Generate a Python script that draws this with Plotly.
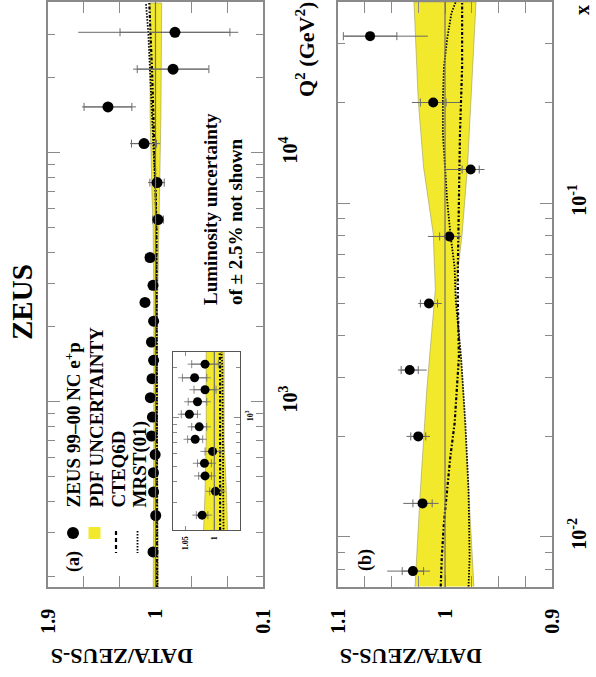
import plotly.graph_objects as go

# ---------------- data: panel (a)  DATA/ZEUS-S vs Q^2 ----------------
q2_a = [250, 350, 435, 520, 615, 730, 870, 1040, 1240, 1470, 1740, 2110,
        2510, 2940, 3800, 5400, 7600, 10900, 15300, 21700, 30500]
ratio_a = [1.021, 0.998, 1.016, 1.017, 1.003, 1.033, 1.026, 1.043, 1.029, 1.016, 1.034, 1.016,
           1.088, 1.021, 1.046, 0.979, 0.987, 1.096, 1.398, 0.853, 0.837]
tot_up_a = [0.017, 0.017, 0.019, 0.020, 0.021, 0.020, 0.020, 0.020, 0.023, 0.027, 0.028, 0.030,
            0.030, 0.035, 0.040, 0.050, 0.076, 0.117, 0.217, 0.335, 0.810]
tot_dn_a = [0.017, 0.017, 0.019, 0.020, 0.021, 0.020, 0.020, 0.020, 0.023, 0.027, 0.028, 0.030,
            0.030, 0.035, 0.040, 0.050, 0.067, 0.134, 0.235, 0.293, 0.530]
stat_a = [0.010, 0.010, 0.011, 0.012, 0.013, 0.013, 0.013, 0.014, 0.016, 0.019, 0.021, 0.023,
          0.025, 0.030, 0.035, 0.045, 0.060, 0.105, 0.200, 0.300, 0.460]

band_a_q2 = [180, 340, 700, 2500, 5000, 7000, 14000, 40000]
band_a_hi = [1.019, 1.016, 1.014, 1.014, 1.020, 1.030, 1.045, 1.046]
band_a_lo = [0.977, 0.979, 0.983, 0.983, 0.975, 0.968, 0.955, 0.948]

theory_a_q2 = [180, 2000, 5000, 6900, 8800, 12000, 16300, 22100, 30200, 40000]
cteq_a = [0.990, 0.990, 0.993, 0.998, 1.004, 1.011, 1.020, 1.030, 1.042, 1.052]
mrst_a = [0.984, 0.986, 0.992, 1.000, 1.010, 1.018, 1.032, 1.046, 1.060, 1.080]

# ---------------- data: panel (b)  DATA/ZEUS-S vs x ----------------
x_b = [0.0079, 0.0126, 0.02, 0.0316, 0.05, 0.0794, 0.126, 0.2, 0.316]
ratio_b = [1.030, 1.021, 1.025, 1.033, 1.015, 0.996, 0.976, 1.011, 1.070]
tot_up_b = [0.024, 0.018, 0.011, 0.011, 0.010, 0.020, 0.024, 0.020, 0.024]
tot_dn_b = [0.016, 0.015, 0.011, 0.016, 0.012, 0.011, 0.013, 0.025, 0.054]
stat_b = [0.010, 0.009, 0.007, 0.008, 0.008, 0.009, 0.008, 0.012, 0.025]

band_b_x = [0.0071, 0.0138, 0.0276, 0.055, 0.081, 0.128, 0.203, 0.40]
band_b_hi = [1.028, 1.023, 1.017, 1.009, 1.011, 1.020, 1.025, 1.029]
band_b_lo = [0.973, 0.978, 0.983, 0.990, 0.984, 0.979, 0.976, 0.971]

cteq_b_x = [0.0071, 0.0087, 0.011, 0.0138, 0.0174, 0.0219, 0.0276, 0.0346, 0.051, 0.064,
            0.102, 0.162, 0.255, 0.40]
cteq_b = [1.004, 1.003, 1.001, 0.998, 0.995, 0.991, 0.989, 0.987, 0.988, 0.988,
          0.987, 0.986, 0.984, 0.984]
mrst_b_x = [0.0071, 0.0087, 0.0138, 0.0219, 0.0346, 0.0512, 0.064, 0.081, 0.102, 0.128,
            0.162, 0.203, 0.255, 0.31, 0.37, 0.40]
mrst_b = [0.978, 0.977, 0.978, 0.981, 0.985, 0.990, 0.991, 0.995, 0.998, 1.000,
          1.002, 1.002, 1.001, 0.998, 0.994, 0.990]

# tick labels
ratio_ticks_a = [1.9, 1, 0.1]
ratio_ticks_a_txt = ["1.9", "1", "0.1"]
ratio_minor_a = [1.6, 1.3, 0.7, 0.4]
ratio_ticks_b = [1.1, 1, 0.9]
ratio_ticks_b_txt = ["1.1", "1", "0.9"]
ratio_minor_b = [1.075, 1.05, 1.025, 0.975, 0.95, 0.925]
q2_ticks = [1000, 10000]
q2_ticks_txt = ["10<sup>3</sup>", "10<sup>4</sup>"]
q2_minor = [200, 300, 400, 500, 600, 700, 800, 900, 2000, 3000, 4000, 5000, 6000, 7000,
            8000, 9000, 20000, 30000]
x_ticks = [0.01, 0.1]
x_ticks_txt = ["10<sup>-2</sup>", "10<sup>-1</sup>"]
x_minor = [0.008, 0.009, 0.02, 0.03, 0.04, 0.05, 0.06, 0.07, 0.08, 0.09, 0.2, 0.3]
inset_ticks = [1.05, 1.0]
inset_ticks_txt = ["1.05", "1"]
inset_q2_ticks = [1000]
inset_q2_ticks_txt = ["10<sup>3</sup>"]
inset_q2_minor = [300, 400, 500, 600, 700, 800, 900, 2000]
INSET_Q2_MAX = 2200

# ---------------- style ----------------
W, H = 596, 677
FONT = "Liberation Serif"
YEL = "#F3E92C"
FRAME = "#8a8a8a"
ERR = "#6a6a6a"
CTEQ_DASH = "3px,2px,1.5px,2px"
MRST_DASH = "1.5px,1.5px"


def px(X):
    return X / W


def py(Y):
    return 1 - Y / H


fig = go.Figure()


def add_panel(xa, ya, band_pos, band_hi, band_lo, th_pos1, th1, th_pos2, th2,
              pos, rat, up, dn, st, msize, lw=1.0):
    fig.add_trace(go.Scatter(
        x=band_hi + band_lo[::-1], y=band_pos + band_pos[::-1], fill="toself",
        fillcolor=YEL, line=dict(color="#9a9a60", width=0.6), mode="lines",
        xaxis=xa, yaxis=ya, hoverinfo="skip", showlegend=False))
    fig.add_shape(type="line", xref=xa, yref=ya + " domain", x0=1, x1=1, y0=0, y1=1,
                  line=dict(color="#6e6e6e", width=1.2))
    fig.add_trace(go.Scatter(x=th1, y=th_pos1, mode="lines", xaxis=xa, yaxis=ya,
                             line=dict(color="black", width=2.2, dash=CTEQ_DASH),
                             showlegend=False, hoverinfo="skip"))
    fig.add_trace(go.Scatter(x=th2, y=th_pos2, mode="lines", xaxis=xa, yaxis=ya,
                             line=dict(color="black", width=1.8, dash=MRST_DASH),
                             showlegend=False, hoverinfo="skip"))
    fig.add_trace(go.Scatter(
        x=rat, y=pos, mode="markers", marker=dict(size=1, color="rgba(0,0,0,0)"),
        error_x=dict(type="data", symmetric=False, array=up, arrayminus=dn,
                     color=ERR, thickness=lw, width=0),
        xaxis=xa, yaxis=ya, showlegend=False, hoverinfo="skip"))
    fig.add_trace(go.Scatter(
        x=rat, y=pos, mode="markers", marker=dict(size=1, color="rgba(0,0,0,0)"),
        error_x=dict(type="data", array=st, color=ERR, thickness=lw, width=4),
        xaxis=xa, yaxis=ya, showlegend=False, hoverinfo="skip"))
    fig.add_trace(go.Scatter(
        x=rat, y=pos, mode="markers", marker=dict(size=msize, color="black"),
        xaxis=xa, yaxis=ya, showlegend=False))


add_panel("x", "y", band_a_q2, band_a_hi, band_a_lo, theory_a_q2, cteq_a,
          theory_a_q2, mrst_a, q2_a, ratio_a, tot_up_a, tot_dn_a, stat_a, 11)
add_panel("x2", "y2", band_b_x, band_b_hi, band_b_lo, cteq_b_x, cteq_b,
          mrst_b_x, mrst_b, x_b, ratio_b, tot_up_b, tot_dn_b, stat_b, 10)

sel = [i for i, q in enumerate(q2_a) if q <= INSET_Q2_MAX]
add_panel("x3", "y3", band_a_q2, band_a_hi, band_a_lo, theory_a_q2, cteq_a,
          theory_a_q2, mrst_a,
          [q2_a[i] for i in sel], [ratio_a[i] for i in sel], [tot_up_a[i] for i in sel],
          [tot_dn_a[i] for i in sel], [stat_a[i] for i in sel], 9, lw=0.8)

tickfont = dict(family=FONT, size=20, color="black", weight=700)
common_x = dict(showgrid=False, zeroline=False, showline=True, linecolor=FRAME, linewidth=1.5,
                mirror="ticks", ticks="inside", tickcolor=FRAME, tickwidth=1.2, ticklen=12,
                tickangle=-90, tickfont=tickfont, ticklabelstandoff=12, tickmode="array",
                automargin=False)
common_y = dict(showgrid=False, zeroline=False, showline=True, linecolor=FRAME, linewidth=1.5,
                mirror="ticks", ticks="inside", tickcolor=FRAME, tickwidth=1.2, ticklen=12,
                tickangle=-90, tickfont=tickfont, side="right", type="log", tickmode="array",
                ticklabelstandoff=8, automargin=False)

ydom = [py(587), py(2)]
fig.update_layout(
    xaxis=dict(common_x, domain=[px(48), px(263)], range=[1.9, 0.1], anchor="y",
               tickvals=ratio_ticks_a, ticktext=ratio_ticks_a_txt,
               minor=dict(tickvals=ratio_minor_a, ticklen=11, ticks="inside",
                          tickcolor=FRAME, tickwidth=1.2)),
    yaxis=dict(common_y, domain=ydom, range=[2.257, 4.606], anchor="x",
               tickvals=q2_ticks, ticktext=q2_ticks_txt,
               minor=dict(tickvals=q2_minor, ticklen=7, ticks="inside",
                          tickcolor=FRAME, tickwidth=1.2)),
    xaxis2=dict(common_x, domain=[px(338), px(552)], range=[1.1, 0.9], anchor="y2",
                tickvals=ratio_ticks_b, ticktext=ratio_ticks_b_txt,
                minor=dict(tickvals=ratio_minor_b, ticklen=11, ticks="inside",
                           tickcolor=FRAME, tickwidth=1.2)),
    yaxis2=dict(common_y, domain=ydom, range=[-2.150, -0.398], anchor="x2",
                tickvals=x_ticks, ticktext=x_ticks_txt,
                minor=dict(tickvals=x_minor, ticklen=7, ticks="inside",
                           tickcolor=FRAME, tickwidth=1.2)),
    xaxis3=dict(common_x, domain=[px(173.3), px(240)], range=[1.0707, 0.9557], anchor="y3",
                tickvals=inset_ticks, ticktext=inset_ticks_txt, ticklen=4, linecolor="#555",
                linewidth=1.0, tickfont=dict(family=FONT, size=8, color="black", weight=700),
                ticklabelstandoff=2),
    yaxis3=dict(common_y, domain=[py(530), py(351.7)], range=[2.3067, 3.4006], anchor="x3",
                tickvals=inset_q2_ticks, ticktext=inset_q2_ticks_txt, ticklen=6,
                linecolor="#555", linewidth=1.0,
                tickfont=dict(family=FONT, size=8, color="black", weight=700),
                ticklabelstandoff=2,
                minor=dict(tickvals=inset_q2_minor, ticklen=4, ticks="inside",
                           tickcolor=FRAME, tickwidth=1.0)),
    width=W, height=H, margin=dict(l=0, r=0, t=0, b=0, pad=0, autoexpand=False),
    paper_bgcolor="white", plot_bgcolor="white",
    font=dict(family=FONT, color="black", weight=700),
)


def note(text, X, Y, size, angle=-90, xanchor="center", yanchor="middle", align="center"):
    fig.add_annotation(text=text, x=px(X), y=py(Y), xref="paper", yref="paper",
                       showarrow=False, textangle=angle, xanchor=xanchor, yanchor=yanchor,
                       align=align, font=dict(family=FONT, size=size, color="black", weight=700))


note("ZEUS", 22, 302, 29)
note("DATA/ZEUS-S", 122.5, 657, 22, angle=180)
note("DATA/ZEUS-S", 411.5, 657, 22, angle=180)
note("Q<sup>2</sup> (GeV<sup>2</sup>)", 305, 50, 22)
note("x", 582, 10, 20)
note("(a)", 73, 562, 18)
note("(b)", 365, 560, 18)
note("ZEUS 99–00 NC e<sup>+</sup>p", 73, 510, 19, yanchor="bottom")
note("PDF UNCERTAINTY", 96, 510, 19, yanchor="bottom")
note("CTEQ6D", 118, 510, 19, yanchor="bottom")
note("MRST(01)", 140, 510, 19, yanchor="bottom")
note("Luminosity uncertainty<br>of ± 2.5% not shown", 223, 307, 19, yanchor="bottom",
     align="left")

# legend symbols (drawn in paper space)
fig.add_shape(type="circle", xref="paper", yref="paper", x0=px(67), x1=px(79),
              y0=py(539), y1=py(527), fillcolor="black", line=dict(color="black", width=0))
fig.add_shape(type="rect", xref="paper", yref="paper", x0=px(88.5), x1=px(100.5),
              y0=py(539), y1=py(527), fillcolor=YEL, line=dict(color=YEL, width=0))
fig.add_shape(type="line", xref="paper", yref="paper", x0=px(116), x1=px(116),
              y0=py(531), y1=py(553), line=dict(color="black", width=2.2, dash="4px,3px"))
fig.add_shape(type="line", xref="paper", yref="paper", x0=px(137.5), x1=px(137.5),
              y0=py(531), y1=py(553), line=dict(color="black", width=1.8, dash=MRST_DASH))

fig.write_html("out.html")
